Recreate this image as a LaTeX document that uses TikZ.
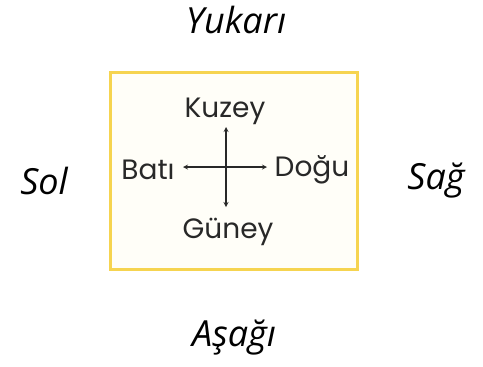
\documentclass[tikz,border=0pt]{standalone}
\usepackage{fontspec}
\usepackage{tikz, xcolor}
\usetikzlibrary{shapes,arrows}
\newfontfamily\handfont{Open Sans}
\newfontfamily\roundfont{Poppins}
\definecolor{frameyellow}{RGB}{246,212,80}
\definecolor{framefill}{RGB}{255,254,248}
\definecolor{inktext}{RGB}{40,40,40}

\begin{document}
\begin{tikzpicture}[thick, x=1pt, y=-1pt]
\tikzstyle{sidelabel}=[inner sep=0pt, text=black, font=\handfont\itshape\fontsize{36}{40}\selectfont]
\tikzstyle{dirlabel}=[inner sep=0pt, text=inktext, font=\roundfont\fontsize{28}{32}\selectfont]
\tikzstyle{crossstyle}=[line width=1.2pt, draw=inktext, >=stealth, <->]
\tikzstyle{framestyle}=[draw=frameyellow, line width=3pt, fill=framefill]

\useasboundingbox (0,0) rectangle (483,367);

\draw[framestyle] (110,72) rectangle (357,269);

\node[sidelabel] (Up) at (236,20) {Yukarı};
\node[sidelabel] (Down) at (234,338) {Aşağı};
\node[sidelabel] (Left) at (44,181) {Sol};
\node[sidelabel] (Right) at (436,181) {Sağ};

\node[dirlabel] (North) at (225,111) {Kuzey};
\node[dirlabel] (South) at (228,232) {Güney};
\node[dirlabel] (West) at (148,170) {Batı};
\node[dirlabel] (East) at (312,170) {Doğu};

\coordinate (NEnd) at (226,127);
\coordinate (SEnd) at (226,207);
\coordinate (WEnd) at (183,167);
\coordinate (EEnd) at (267,167);
\draw[crossstyle] (NEnd) -- (SEnd);
\draw[crossstyle] (WEnd) -- (EEnd);
\end{tikzpicture}
\end{document}
